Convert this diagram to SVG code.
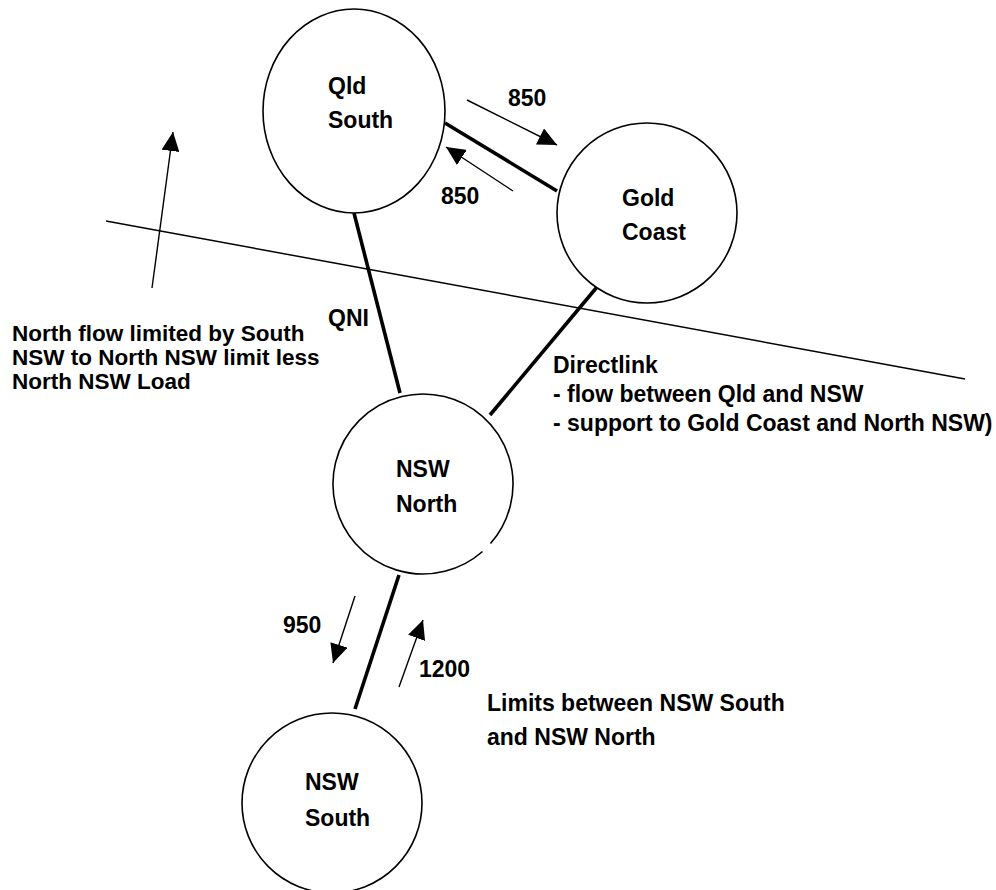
<svg xmlns="http://www.w3.org/2000/svg" width="996" height="890" viewBox="0 0 996 890">
  <style>
    .node { fill: #ffffff; stroke: #000000; stroke-width: 1.6; }
    .lbl { font-family: "Liberation Sans", Arial, sans-serif; font-weight: bold; font-size: 23px; fill: #000000; }
    .note { font-size: 22.5px; }
    .link { stroke: #000000; stroke-width: 3.6; fill: none; }
    .flow { stroke: #000000; stroke-width: 1.4; fill: none; marker-end: url(#head); }
    .border { stroke: #000000; stroke-width: 1.5; fill: none; }
  </style>
  <defs>
    <marker id="head" markerUnits="userSpaceOnUse" markerWidth="20" markerHeight="18" refX="19" refY="9" orient="auto">
      <path d="M0,0 L19,9 L0,18 Z" fill="#000000"/>
    </marker>
  </defs>
  <rect width="996" height="890" fill="#ffffff"/>

  <!-- region boundary line -->
  <line class="border" x1="106" y1="221" x2="965" y2="379"/>

  <g id="connectors">
    <!-- transmission links -->
    <line class="link" x1="445" y1="123" x2="557" y2="191"/>
    <line class="link" x1="354" y1="213" x2="400" y2="393"/>
    <line class="link" x1="602" y1="281" x2="490" y2="415"/>
    <line class="link" x1="399" y1="575" x2="355" y2="709"/>
    <!-- flow direction arrows -->
    <line class="flow" x1="152" y1="288" x2="173" y2="132"/>
    <line class="flow" x1="467" y1="100" x2="557" y2="145"/>
    <line class="flow" x1="513" y1="191" x2="446" y2="147"/>
    <line class="flow" x1="355" y1="596" x2="333" y2="663"/>
    <line class="flow" x1="399" y1="687" x2="423" y2="620"/>
  </g>

  <g id="qld-south">
    <ellipse class="node" cx="354" cy="111" rx="91" ry="102"/>
    <text class="lbl" x="328" y="94">Qld</text>
    <text class="lbl" x="328" y="128">South</text>
  </g>

  <g id="gold-coast">
    <circle class="node" cx="647" cy="213" r="90"/>
    <text class="lbl" x="622" y="206">Gold</text>
    <text class="lbl" x="622" y="240">Coast</text>
  </g>

  <g id="nsw-north">
    <path class="node" d="M482.5,551.5 A90,90 0 1 1 490.5,543.5"/>
    <text class="lbl" x="396" y="477">NSW</text>
    <text class="lbl" x="396" y="512">North</text>
  </g>

  <g id="nsw-south">
    <circle class="node" cx="332" cy="803" r="90"/>
    <text class="lbl" x="305" y="790">NSW</text>
    <text class="lbl" x="305" y="826">South</text>
  </g>

  <g id="labels">
    <text class="lbl" x="508" y="106">850</text>
    <text class="lbl" x="441" y="204">850</text>
    <text class="lbl" x="328" y="326">QNI</text>
    <text class="lbl" x="283" y="633">950</text>
    <text class="lbl" x="419" y="677">1200</text>
    <text class="lbl note" x="12" y="341">North flow limited by South</text>
    <text class="lbl note" x="12" y="365">NSW to North NSW limit less</text>
    <text class="lbl note" x="12" y="389">North NSW Load</text>
    <text class="lbl" x="553" y="373">Directlink</text>
    <text class="lbl" x="553" y="402">- flow between Qld and NSW</text>
    <text class="lbl" x="553" y="431">- support to Gold Coast and North NSW)</text>
    <text class="lbl" x="487" y="711">Limits between NSW South</text>
    <text class="lbl" x="487" y="745">and NSW North</text>
  </g>
</svg>
